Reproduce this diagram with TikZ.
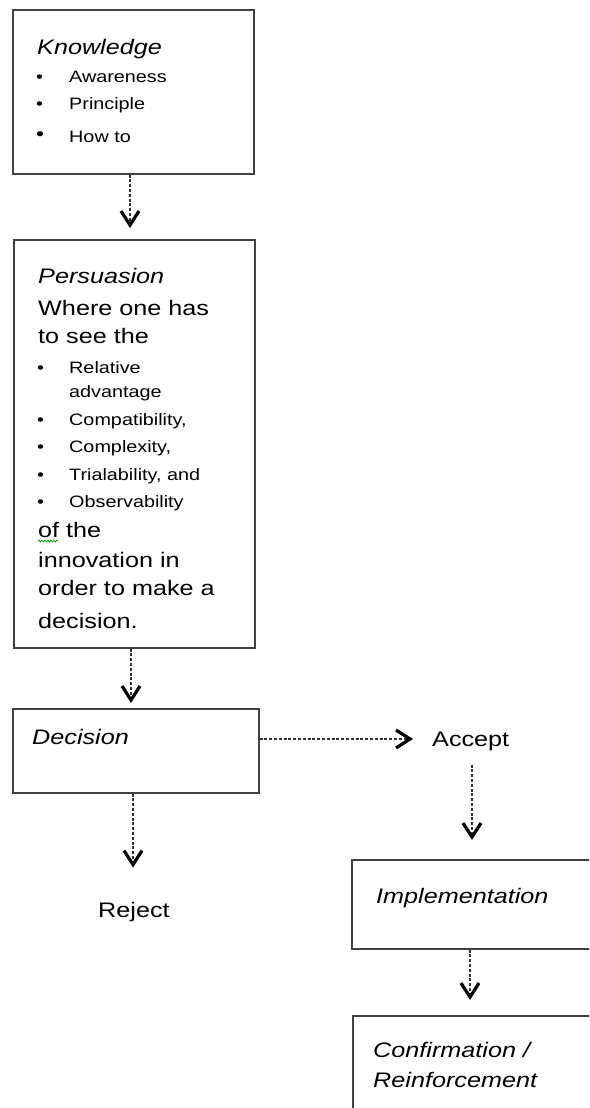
\documentclass[tikz,border=0pt]{standalone}
\usepackage{fontspec}
\setmainfont{Liberation Sans}[FakeStretch=1.2]
\usetikzlibrary{arrows.meta,decorations.pathmorphing}
\begin{document}
\begin{tikzpicture}[x=1pt,y=-1pt,
  box/.style={draw=black!75,line width=1.6pt,rectangle,anchor=north west,inner sep=0pt},
  big/.style={anchor=base west,inner sep=0pt,font=\fontsize{21}{25}\selectfont},
  ttl/.style={anchor=base west,inner sep=0pt,font=\fontsize{21}{25}\selectfont\itshape},
  sml/.style={anchor=base west,inner sep=0pt,font=\fontsize{16.5}{20}\selectfont},
  bul/.style={anchor=base west,inner sep=0pt,font=\fontsize{16.5}{20}\selectfont},
  conn/.style={draw=black!80,line width=1.2pt,dash pattern=on 3pt off 1.8pt,
    -{Straight Barb[length=14pt,width=18pt,line width=3.2pt,color=black]}}]
\useasboundingbox (0,0) rectangle (589,1108);
\begin{scope}
\clip (0,0) rectangle (589,1108);
% boxes
\node[box,minimum width=241pt,minimum height=164pt] (know) at (12,9) {};
\node[box,minimum width=241pt,minimum height=408pt] (pers) at (13,239) {};
\node[box,minimum width=246pt,minimum height=84pt] (dec) at (12,708) {};
\node[box,minimum width=260pt,minimum height=89pt] (impl) at (351,859) {};
\node[box,minimum width=260pt,minimum height=130pt] (conf) at (352,1015) {};
% Knowledge texts
\node[ttl] (tk) at (37,55) {Knowledge};
\node[bul] (kb1) at (36,82) {•};
\node[sml] (k1) at (69,82) {Awareness};
\node[bul] (kb2) at (36,109) {•};
\node[sml] (k2) at (69,109) {Principle};
\node[bul] (kb3) at (36,140) {\fontsize{19}{20}\selectfont •};
\node[sml] (k3) at (69,142) {How to};
% Persuasion texts
\node[ttl] (tp) at (38,283) {Persuasion};
\node[big] (p1) at (38,315) {Where one has};
\node[big] (p2) at (38,343) {to see the};
\node[bul] (pb1) at (37,373) {•};
\node[sml] (p3) at (69,373) {Relative};
\node[sml] (p4) at (69,397) {advantage};
\node[bul] (pb2) at (37,425) {•};
\node[sml] (p5) at (69,425) {Compatibility,};
\node[bul] (pb3) at (37,452) {•};
\node[sml] (p6) at (69,452) {Complexity,};
\node[bul] (pb4) at (37,480) {•};
\node[sml] (p7) at (69,480) {Trialability, and};
\node[bul] (pb5) at (37,507) {•};
\node[sml] (p8) at (69,507) {Observability};
\node[big] (p9) at (38,537) {of the};
\node[big] (p10) at (38,567) {innovation in};
\node[big] (p11) at (38,595) {order to make a};
\node[big] (p12) at (38,628) {decision.};
\draw[green!60!black,line width=0.7pt,decorate,decoration={snake,amplitude=1pt,segment length=3pt}] (38,541) -- (58,541);
% Decision etc.
\node[ttl] (td) at (32,744) {Decision};
\node[big] (acc) at (432,746) {Accept};
\node[big] (rej) at (98,917) {Reject};
\node[ttl] (ti) at (376,903) {Implementation};
\node[ttl] (tc1) at (373,1057) {Confirmation /};
\node[ttl] (tc2) at (373,1087) {Reinforcement};
\coordinate (colA) at (472,0);
% connectors
\draw[conn,shorten >=11pt] (know.south -| 130,0) -- (pers.north -| 130,0);
\draw[conn,shorten >=5pt] (pers.south -| 131,0) -- (dec.north -| 131,0);
\draw[conn,shorten >=19pt] (dec.east |- 0,739) -- (acc.west |- 0,739);
\draw[conn,shorten <=14pt,shorten >=19pt] (acc.south -| colA) -- (impl.north -| colA);
\draw[conn,shorten >=34pt] (dec.south -| 133,0) -- (rej.north -| 133,0);
\draw[conn,shorten >=15pt] (impl.south -| 470,0) -- (conf.north -| 470,0);
\end{scope}
\end{tikzpicture}
\end{document}
